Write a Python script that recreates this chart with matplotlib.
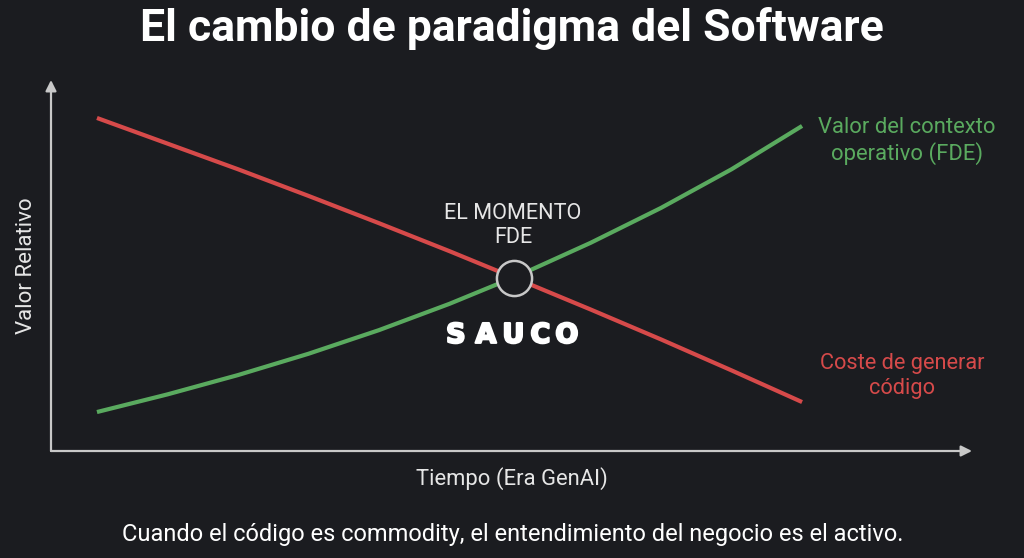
import matplotlib
matplotlib.use("Agg")
import matplotlib.pyplot as plt
import matplotlib.patheffects as pe
import numpy as np

# ---- data ----
tiempo = [0, 1, 2, 3, 4, 5, 6, 7, 8, 9, 10]
coste_generar_codigo = [100.0, 92.3, 84.6, 76.6, 68.4, 60.0, 51.3, 42.5, 33.5, 24.2, 14.7]
valor_contexto_fde = [11.7, 17.0, 22.8, 29.2, 36.3, 44.2, 52.9, 62.5, 73.0, 84.6, 97.6]
momento_fde = (5.92, 52.0)

titulo = "El cambio de paradigma del Software"
etiqueta_y = "Valor Relativo"
etiqueta_x = "Tiempo (Era GenAI)"
etiqueta_verde = "Valor del contexto\noperativo (FDE)"
etiqueta_roja = "Coste de generar\ncódigo"
etiqueta_momento = "EL MOMENTO\nFDE"
marca = "SAUCO"
pie = "Cuando el código es commodity, el entendimiento del negocio es el activo."

# ---- style ----
BG = "#1b1c20"
RED = "#d64a4a"
GREEN = "#5aaa5f"
AXIS = "#c8c8c8"
TXT = "#e6e6e6"
plt.rcParams['font.family'] = ['Roboto', 'DejaVu Sans']

fig = plt.figure(figsize=(10.24, 5.58), dpi=100, facecolor=BG)
ax = fig.add_axes([51/1024, 107/558, 921/1024, 371/558])
ax.set_facecolor(BG)
ax.set_xlim(-0.652, 12.41)
ax.set_ylim(0, 111.4)
for s in ax.spines.values():
    s.set_visible(False)
ax.set_xticks([])
ax.set_yticks([])

# axes arrows
ax.annotate('', xy=(1, 0), xytext=(0, 0), xycoords='axes fraction',
            arrowprops=dict(arrowstyle='-|>', color=AXIS, lw=1.6, mutation_scale=16,
                            shrinkA=0, shrinkB=0))
ax.annotate('', xy=(0, 1), xytext=(0, 0), xycoords='axes fraction',
            arrowprops=dict(arrowstyle='-|>', color=AXIS, lw=1.6, mutation_scale=16,
                            shrinkA=0, shrinkB=0))

ax.plot(tiempo, coste_generar_codigo, color=RED, lw=3.0, solid_capstyle='butt',
        solid_joinstyle='round', zorder=3)
ax.plot(tiempo, valor_contexto_fde, color=GREEN, lw=3.0, solid_capstyle='butt',
        solid_joinstyle='round', zorder=3)
ax.scatter([momento_fde[0]], [momento_fde[1]], s=640, facecolor=BG, edgecolor=AXIS,
           linewidth=1.8, zorder=5)

# labels
ax.text(momento_fde[0] - 0.02, momento_fde[1] + 15.8, etiqueta_momento, ha='center', va='center',
        color=TXT, fontsize=15.6, linespacing=1.2)

# brand mark, letters spread out like the wide logotype
letter_offsets_px = [-56.0, -26.0, 1.5, 28.5, 55.0]
for letra, dx in zip(marca, letter_offsets_px):
    ax.annotate(letra, xy=momento_fde, xytext=((dx - 2.5) * 0.72, -58 * 0.72),
                textcoords='offset points', ha='center', va='center',
                color='white', fontsize=19.5, fontweight='heavy', family=['DejaVu Sans'],
                path_effects=[pe.withStroke(linewidth=1.6, foreground='white')])

ax.text(tiempo[-1] + 1.49, valor_contexto_fde[-1] - 4.5, etiqueta_verde, ha='center', va='center',
        color=GREEN, fontsize=15.8, linespacing=1.25)
ax.text(tiempo[-1] + 1.42, coste_generar_codigo[-1] + 7.8, etiqueta_roja, ha='center', va='center',
        color=RED, fontsize=15.7, linespacing=1.2)

fig.text(0.5, 1 - 29/558, titulo, ha='center', va='center', color='white',
         fontsize=32, fontweight='bold')
fig.text(27/1024, 1 - 266/558, etiqueta_y, ha='center', va='center', rotation=90,
         color=TXT, fontsize=16)
fig.text(512/1024, 1 - 479/558, etiqueta_x, ha='center', va='center', color=TXT, fontsize=15.8)
fig.text(513/1024, 1 - 534/558, pie, ha='center', va='center', color='white', fontsize=17)

fig.savefig("out.png", dpi=100, facecolor=BG)
